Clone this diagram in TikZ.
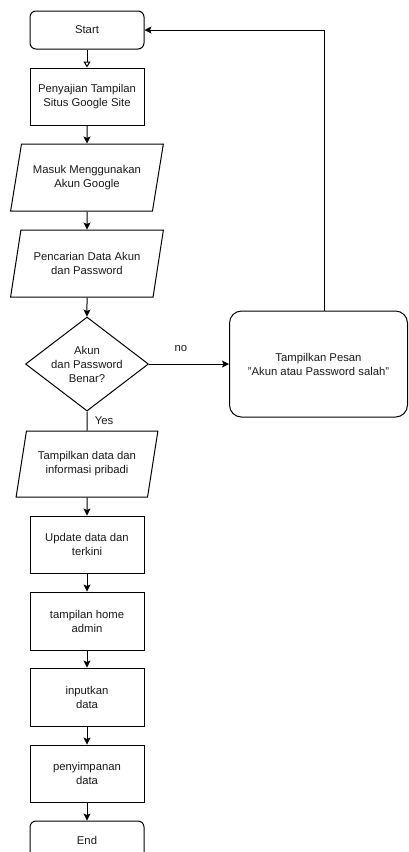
\documentclass[tikz,border=0pt]{standalone}
\usepackage{fontspec}
\setmainfont{Liberation Sans}
\usetikzlibrary{arrows.meta,positioning,shapes.geometric}
\newcommand{\alur}[2]{\path (#1) edge (#2); }

\begin{document}
\begin{tikzpicture}[x=1pt,y=-1pt,->,>={Stealth[length=7pt,width=7pt,inset=1.5pt]},line width=1pt,node distance=18pt,
  every node/.style={font=\fontsize{11.3}{14}\selectfont,align=center,text=black!90},
  terminal/.style={draw,rounded corners=6pt,minimum width=114pt,minimum height=38pt},
  proses/.style={draw,rectangle,minimum width=114pt,minimum height=57pt},
  io/.style={draw,trapezium,trapezium left angle=73,trapezium right angle=107,trapezium stretches=true,minimum width=153pt,minimum height=67pt},
  keputusan/.style={draw,diamond,aspect=1.3,inner sep=0pt,minimum width=123pt,minimum height=94pt},
  pesan/.style={draw,rounded corners=12pt,minimum width=178pt,minimum height=106pt}]
  \useasboundingbox (0,0) rectangle (408,852);
  \clip (0,0) rectangle (408,852);
  \node[terminal] (start) at (87,30) {Start};
  \node[proses] (sajian) [below=of start] {Penyajian Tampilan\\Situs Google Site};
  \node[io] (masuk) [below=of sajian] {Masuk Menggunakan\\Akun Google};
  \node[io] (cari) [below=of masuk] {Pencarian Data Akun\\dan Password};
  \node[keputusan] (cek) [below=19pt of cari] {Akun\\dan Password\\Benar?};
  \node[pesan] (salah) [right=80pt of cek] {Tampilkan Pesan\\"Akun atau Password salah"};
  \node[io,minimum width=142pt,minimum height=66pt,trapezium left angle=74,trapezium right angle=106] (info) [below=19pt of cek] {Tampilkan data dan\\informasi pribadi};
  \node[proses] (update) [below=of info] {Update data dan\\terkini};
  \node[proses,minimum height=58pt] (home) [below=of update] {tampilan home\\admin};
  \node[proses,minimum height=58pt] (input) [below=17pt of home] {inputkan\\data};
  \node[proses] (simpan) [below=of input] {penyimpanan\\data};
  \node[terminal] (end) [below=of simpan] {End};
  \path (start) edge [-{Triangle[open,length=6pt,width=7pt]}] (sajian);
  \alur{sajian}{masuk}
  \alur{masuk}{cari}
  \alur{cari}{cek}
  \path (cek) edge node[above=9pt,pos=0.4] {no} (salah);
  \path (cek) edge [-] node[right=4pt,pos=0.5] {Yes} (info);
  \alur{info}{update}
  \alur{update}{home}
  \alur{home}{input}
  \alur{input}{simpan}
  \alur{simpan}{end}
  \draw ([xshift=6pt]salah.north) |- (start.east);
\end{tikzpicture}
\end{document}
